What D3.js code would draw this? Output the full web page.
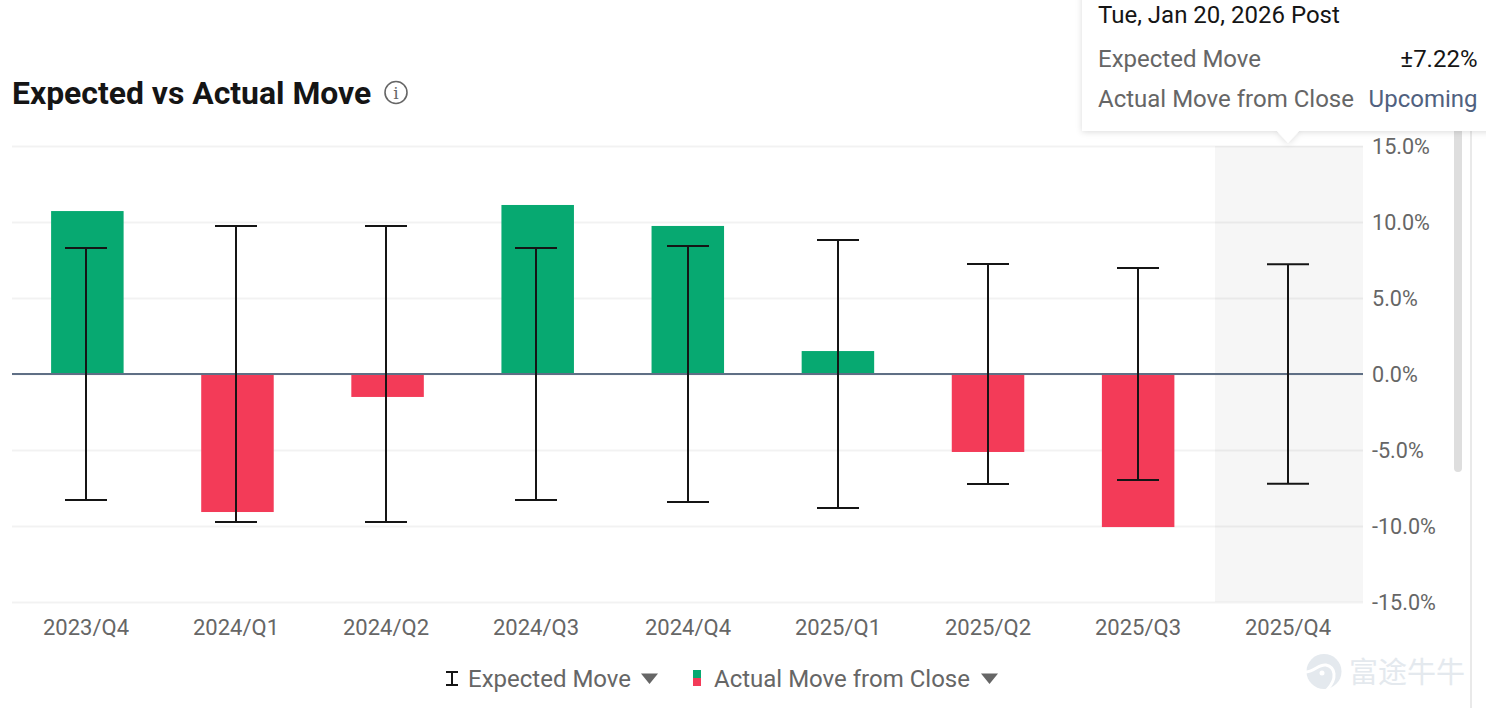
<!DOCTYPE html>
<html>
<head>
<meta charset="utf-8">
<script src="https://cdn.jsdelivr.net/npm/d3@7"></script>
<style>
  html, body { margin: 0; padding: 0; background: #fff; overflow: hidden; }
  svg { display: block; font-family: Roboto, sans-serif; }
</style>
</head>
<body>
<svg id="chart" width="1486" height="708"></svg>
<script>
const quarters = ["2023/Q4","2024/Q1","2024/Q2","2024/Q3","2024/Q4","2025/Q1","2025/Q2","2025/Q3","2025/Q4"];
const actualMove = [10.72,-9.08,-1.51,11.12,9.74,1.51,-5.13,-10.07,null];
const expectedMove = [8.29,9.74,9.74,8.29,8.42,8.82,7.24,6.97,7.22];
const yTicks = [15,10,5,0,-5,-10,-15];
const upcomingQuarter = "2025/Q4";

const UP = "#07a971", DOWN = "#f33b58", INK = "#151515", MUTED = "#666666";
const FONT = "Roboto, sans-serif";

const svg = d3.select("#chart");
const x = d3.scaleBand().domain(quarters).range([12.3, 1363.3]).paddingInner(0.517).paddingOuter(0.2585);
const y = d3.scaleLinear().domain([-15, 15]).range([602, 146]);
const cx = q => x(q) + x.bandwidth() / 2;
const pct = v => v.toFixed(1) + "%";

// Whiskers and labels snap to whole pixels, the early quarters sit slightly left of their bars
const wx = q => Math.round(cx(q) + (quarters.indexOf(q) < 4 ? -1.4 : 0.1));

// Shaded column for the quarter that has not reported yet
svg.append("rect")
  .attr("x", 1215).attr("y", y(15))
  .attr("width", 148).attr("height", y(-15) - y(15))
  .attr("fill", "#f6f6f6");

// Value axis: gridlines plus right-hand labels
const yAxis = d3.axisRight(y).tickValues(yTicks).tickSize(1351).tickPadding(9).tickFormat(pct);
const yG = svg.append("g").attr("transform", "translate(12,0)").call(yAxis).attr("font-family", FONT);
yG.select(".domain").remove();
yG.selectAll("line").attr("stroke", "#000").attr("stroke-opacity", 0.05).attr("stroke-width", 2);
yG.selectAll("text").attr("fill", MUTED).attr("font-size", 21.6).attr("dy", "0.345em");

// Actual move bars
svg.append("g").selectAll("rect")
  .data(quarters.map((q, i) => ({ q, v: actualMove[i] })).filter(d => d.v !== null))
  .join("rect")
  .attr("x", d => x(d.q)).attr("width", x.bandwidth())
  .attr("y", d => y(Math.max(d.v, 0)))
  .attr("height", d => Math.abs(y(d.v) - y(0)))
  .attr("fill", d => d.v >= 0 ? UP : DOWN);

// Zero baseline
svg.append("line")
  .attr("x1", 12).attr("x2", 1363).attr("y1", y(0)).attr("y2", y(0))
  .attr("stroke", "#5f6f85").attr("stroke-width", 2);

// Expected move whiskers
const whisker = svg.append("g").attr("stroke", INK).attr("stroke-width", 2).attr("fill", "none")
  .selectAll("g").data(quarters.map((q, i) => ({ q, v: expectedMove[i] }))).join("g");
whisker.append("line")
  .attr("x1", d => wx(d.q)).attr("x2", d => wx(d.q))
  .attr("y1", d => y(d.v)).attr("y2", d => y(-d.v));
[1, -1].forEach(sign => {
  whisker.append("line")
    .attr("x1", d => wx(d.q) - 21).attr("x2", d => wx(d.q) + 21)
    .attr("y1", d => y(sign * d.v)).attr("y2", d => y(sign * d.v));
});

// Category labels
const xAxis = d3.axisBottom(x).tickSize(0).tickPadding(0);
const xG = svg.append("g").attr("transform", "translate(0,616)").call(xAxis).attr("font-family", FONT);
xG.select(".domain").remove();
xG.selectAll(".tick").attr("transform", d => `translate(${wx(d)},0)`);
xG.selectAll("text").attr("fill", MUTED).attr("font-size", 22).attr("dy", "0.865em");

// Title and info icon
svg.append("text").attr("x", 12).attr("y", 104)
  .attr("font-size", 31.9).attr("font-weight", 700).attr("fill", INK)
  .text("Expected vs Actual Move");
const info = svg.append("g").attr("transform", "translate(396,92.5)");
info.append("circle").attr("r", 11).attr("fill", "none").attr("stroke", MUTED).attr("stroke-width", 1.6);
info.append("text").attr("text-anchor", "middle").attr("y", 6.5)
  .attr("font-family", "'DejaVu Serif', serif").attr("font-size", 17).attr("fill", MUTED).text("i");

// Legend
const legend = svg.append("g");
legend.append("path").attr("d", "M446 672H458M452 672V685M446 685H458")
  .attr("stroke", INK).attr("stroke-width", 2).attr("fill", "none");
legend.append("text").attr("x", 468).attr("y", 687).attr("font-size", 24).attr("fill", MUTED)
  .text("Expected Move");
legend.append("path").attr("d", "M641 673.500H658L649.500 684Z").attr("fill", MUTED);
legend.append("rect").attr("x", 693).attr("y", 670).attr("width", 8).attr("height", 8).attr("fill", UP);
legend.append("rect").attr("x", 693).attr("y", 678).attr("width", 8).attr("height", 8).attr("fill", DOWN);
legend.append("text").attr("x", 714).attr("y", 687).attr("font-size", 24).attr("fill", MUTED)
  .text("Actual Move from Close");
legend.append("path").attr("d", "M981 673.500H998L989.500 684Z").attr("fill", MUTED);

// Panel scroll track on the right edge
svg.append("rect").attr("x", 1454).attr("y", 100).attr("width", 8).attr("height", 372).attr("rx", 4).attr("fill", "#dedede");
svg.append("rect").attr("x", 1470).attr("y", 0).attr("width", 2).attr("height", 708).attr("fill", "#e9e9e9");

// Brand mark
const brand = svg.append("g");
brand.append("circle").attr("cx", 1324).attr("cy", 671.500).attr("r", 17.500).attr("fill", "#e4e9ee");
brand.append("path")
  .attr("d", "M1306 672C1315 671 1319 664 1326 665C1335 667 1338 678 1327 690")
  .attr("fill", "none").attr("stroke", "#fff").attr("stroke-width", 3);
brand.append("circle").attr("cx", 1322).attr("cy", 673).attr("r", 2.500).attr("fill", "#fff");
brand.append("text").attr("x", 1349).attr("y", 683).attr("font-size", 29)
  .attr("font-family", "'Noto Sans CJK SC', sans-serif").attr("fill", "#e4e9ee").text("富途牛牛");

// Tooltip for the hovered quarter
const tip = svg.append("g");
const tipX = wx(upcomingQuarter);
tip.append("defs").append("filter").attr("id", "tipShadow")
  .attr("x", "-5%").attr("y", "-10%").attr("width", "110%").attr("height", "125%")
  .append("feDropShadow").attr("dx", 0).attr("dy", 1).attr("stdDeviation", 3)
  .attr("flood-color", "#000").attr("flood-opacity", 0.14);
tip.append("path")
  .attr("d", `M1082 -10V131H${tipX - 11}L${tipX} 143L${tipX + 11} 131H1500V-10Z`)
  .attr("fill", "#fff").attr("filter", "url(#tipShadow)");
tip.append("text").attr("x", 1098).attr("y", 23).attr("font-size", 24).attr("fill", INK)
  .text("Tue, Jan 20, 2026 Post");
tip.append("text").attr("x", 1098).attr("y", 67).attr("font-size", 24).attr("fill", MUTED).text("Expected Move");
tip.append("text").attr("x", 1477.500).attr("y", 67).attr("font-size", 24).attr("fill", INK).attr("text-anchor", "end")
  .text("±" + expectedMove[quarters.indexOf(upcomingQuarter)].toFixed(2) + "%");
tip.append("text").attr("x", 1098).attr("y", 107).attr("font-size", 24).attr("fill", MUTED).text("Actual Move from Close");
tip.append("text").attr("x", 1477.500).attr("y", 107).attr("font-size", 24).attr("fill", "#50617f").attr("text-anchor", "end")
  .text("Upcoming");
</script>
</body>
</html>
